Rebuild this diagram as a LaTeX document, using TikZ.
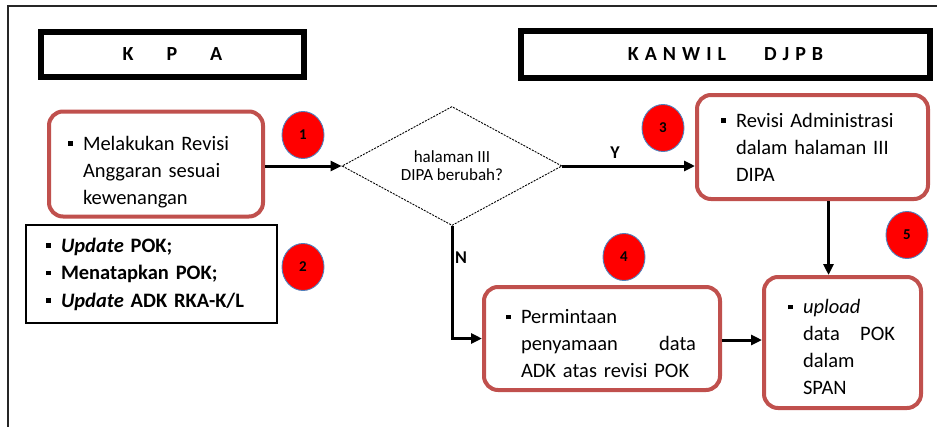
\documentclass[tikz,border=0pt]{standalone}
\usepackage{fontspec}
\setmainfont{Carlito}
\usetikzlibrary{arrows.meta,shapes.geometric,shadows}
\definecolor{boxred}{HTML}{C0504D}
\definecolor{circblue}{HTML}{4F81BD}
\newcommand\mybul{\makebox[15pt][l]{\raisebox{4.5pt}{\rule{4.5pt}{4.5pt}}}}
\newcommand\myind{\hspace*{15pt}}
\begin{document}
\begin{tikzpicture}[x=1pt,y=-1pt,
  titlebox/.style={draw=black, line width=6pt, fill=white, inner sep=0pt,
    font=\bfseries\fontsize{20}{22}\selectfont,
    drop shadow={shadow xshift=2pt, shadow yshift=-2pt, opacity=0.25}},
  redbox/.style={draw=boxred, line width=4pt, rounded corners=14pt, fill=white,
    inner ysep=0pt, align=left, font=\fontsize{20.5}{27}\selectfont},
  numc/.style={ellipse, fill=red, draw=circblue, line width=0.9pt,
    minimum width=42pt, minimum height=47pt, inner sep=0pt,
    font=\bfseries\fontsize{15}{15}\selectfont},
  conn/.style={line width=3pt, -{Triangle[length=11pt,width=10pt]}},
  lbl/.style={font=\bfseries\fontsize{18}{18}\selectfont}]
\clip (0,0) rectangle (937,426);
\draw[line width=1.5pt, draw=black!85] (8,440) -- (8,6) -- (950,6);

\node[titlebox, minimum width=263pt, minimum height=45pt] (kpa) at (172.5,54.5)
  {K\hspace{33pt}P\hspace{33pt}A\hspace{12pt}};
\node[titlebox, minimum width=409pt, minimum height=47pt] (kanwil) at (725.5,54.5)
  {K\kern6pt A\kern6pt N\kern6pt W\kern6pt I\kern6pt L\hspace{38pt}D\kern6pt J\kern6pt P\kern6pt B\hspace{4pt}};

\node[redbox, minimum width=214pt, minimum height=105pt, text width=176pt, inner xsep=19pt] (b1) at (156,164)
  {\mybul\rule{0pt}{30pt}Melakukan Revisi\\\myind Anggaran sesuai\\\myind kewenangan};

\node[draw=black, line width=1.3pt, minimum height=98pt, text width=211pt, inner xsep=20pt, inner ysep=0pt,
  align=left, font=\bfseries\fontsize{20.5}{27.5}\selectfont] (b2) at (151.5,274)
  {\mybul\textit{Update} POK;\\\mybul Menatapkan POK;\\\mybul\textit{Update} ADK RKA-K/L};

\node[diamond, draw=black, line width=0.9pt, dash pattern=on 2pt off 1.2pt, aspect=1.85,
  minimum width=220pt, minimum height=119pt, inner sep=0pt, align=center,
  font=\fontsize{17}{18}\selectfont] (dia) at (452,166) {halaman III\\DIPA berubah?};

\node[redbox, minimum width=231pt, minimum height=104pt, text width=183pt, inner xsep=24pt] (b3) at (812.5,147)
  {\mybul Revisi Administrasi\\\myind dalam halaman III\\\myind DIPA};

\node[redbox, minimum width=236pt, minimum height=103pt, text width=192pt, inner xsep=22pt] (b4) at (602,338.5)
  {\mybul\rule{0pt}{25pt}Permintaan\\\myind\makebox[175pt][s]{penyamaan\hfill data}\\\myind ADK atas revisi POK};

\node[redbox, minimum width=157pt, minimum height=131pt, text width=109pt, inner xsep=24pt] (b5) at (842.5,342.5)
  {\mybul\rule{0pt}{24pt}\textit{upload}\\\myind\makebox[92pt][s]{data\hfill POK}\\\myind dalam\\\myind SPAN};

\node[numc] (n1) at (303,135) {1};
\node[numc] (n2) at (303,267) {2};
\node[numc] (n3) at (663,128) {3};
\node[numc] (n4) at (624,257) {4};
\node[numc] (n5) at (907,235) {5};

\draw[conn] (b1.east |- dia.west) -- (dia.west);
\draw[conn] (dia.east) -- (dia.east -| b3.west);
\draw[conn] ([xshift=16pt]b3.south) -- ([xshift=16pt]b3.south |- b5.north);
\draw[conn] (dia.south) |- (b4.west);
\draw[conn] (b4.east |- 0,340) -- (b5.west |- 0,340);

\node[lbl] (ly) at (615,153) {Y};
\node[lbl] (ln) at (461,258) {N};
\end{tikzpicture}
\end{document}
